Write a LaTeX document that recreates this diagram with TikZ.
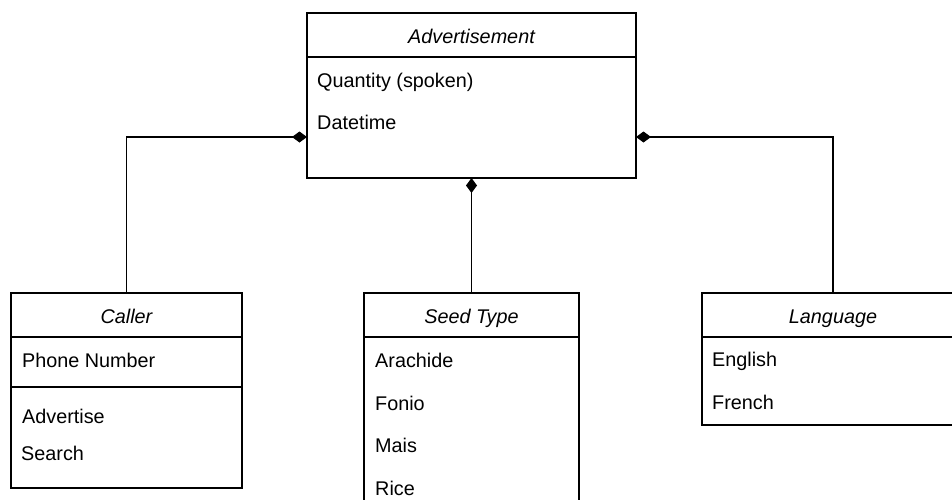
\documentclass[tikz,border=0pt]{standalone}
\usepackage{fontspec}
\setmainfont{Liberation Sans}
\usepackage{tikz}
\usetikzlibrary{arrows.meta, positioning, calc}

\begin{document}
\begin{tikzpicture}[
    x=1pt, y=-1pt,
    head/.style={
      rectangle, draw=black, line width=1.6pt,
      minimum height=44pt, inner sep=0pt, outer sep=0pt,
      text height=20pt, text depth=4pt,
      font=\fontsize{19.8}{23}\selectfont\itshape
    },
    part/.style={
      rectangle, draw=black, line width=1.6pt,
      inner sep=0pt, outer sep=0pt
    },
    item/.style={
      anchor=base west, inner sep=0pt,
      font=\fontsize{19.8}{23}\selectfont
    },
    has/.style={-{Diamond[length=15pt, width=11pt]}, line width=1.5pt, color=black}
  ]
    \path[use as bounding box, clip] (0,0) rectangle (952,499);

    % Advertisement
    \node[head, minimum width=329pt] (adhead) at (471.5,35) {Advertisement};
    \node[part, minimum width=329pt, minimum height=121pt, below=0pt of adhead] (adbody) {};
    \node[item] (qty) at (317,87) {Quantity (spoken)};
    \node[item] (dtime) at (317,129) {Datetime};

    % Caller
    \node[head, minimum width=231pt] (callhead) at (126.5,315) {Caller};
    \node[part, minimum width=231pt, minimum height=50pt, below=0pt of callhead] (callattr) {};
    \node[part, minimum width=231pt, minimum height=101pt, below=0pt of callattr] (callops) {};
    \node[item] (phone) at (22,367) {Phone Number};
    \node[item] (advert) at (22,423) {Advertise};
    \node[item] (search) at (21,460) {Search};

    % Seed Type
    \node[head, minimum width=215pt] (seedhead) at (471.5,315) {Seed Type};
    \node[part, minimum width=215pt, minimum height=190pt, below=0pt of seedhead] (seedbody) {};
    \node[item] (arachide) at (375,367) {Arachide};
    \node[item] (fonio) at (375,410) {Fonio};
    \node[item] (mais) at (375,452) {Mais};
    \node[item] (rice) at (375,495) {Rice};

    % Language
    \node[head, minimum width=262pt] (langhead) at (833,315) {Language};
    \node[part, minimum width=262pt, minimum height=88pt, below=0pt of langhead] (langbody) {};
    \node[item] (english) at (712,366) {English};
    \node[item] (french) at (712,409) {French};

    \draw[has] (callhead.north) |- ([yshift=41pt]adbody.south west);
    \draw[has] (seedhead.north) -- (adbody.south);
    \draw[has] (langhead.north) |- ([yshift=41pt]adbody.south east);
  \end{tikzpicture}
\end{document}
